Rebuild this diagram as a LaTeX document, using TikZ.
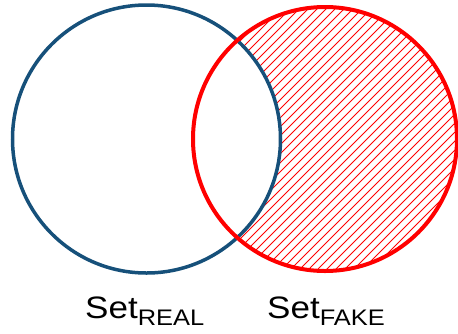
\documentclass[tikz,border=0pt]{standalone}
\usepackage{fontspec}
\setmainfont{Liberation Sans}
\definecolor{realblue}{RGB}{22,80,122}
\definecolor{fakered}{RGB}{255,0,0}
\tikzset{
  realcircle/.style={draw=realblue, line width=3.5pt},
  fakecircle/.style={draw=fakered, line width=4pt},
  hatchline/.style={draw=fakered, line width=0.9pt},
  setlabel/.style={anchor=base west, inner sep=0pt, font=\fontsize{31}{31}\selectfont}
}
\newcommand{\setlab}[1]{\scalebox{1.13}[1]{Set\raisebox{-7pt}{\fontsize{22.5}{22.5}\selectfont #1}}}
\begin{document}
\begin{tikzpicture}[x=1pt, y=-1pt]
\useasboundingbox (0,0) rectangle (458,333);
% hatched region: red circle minus blue circle
\begin{scope}
  \clip (325,139) circle (132);
  \begin{scope}[even odd rule]
    \clip (-10,-10) rectangle (470,345) (146.5,139) circle (134);
    \foreach \i in {-340,-331,...,470} {
      \draw[hatchline] (\i,333) -- (\i+333,0);
    }
  \end{scope}
\end{scope}
\node[realcircle, circle, minimum size=268pt, inner sep=0pt] (real) at (146.5,139) {};
\node[fakecircle, circle, minimum size=264pt, inner sep=0pt] (fake) at (325,139) {};
\node[setlabel] (lreal) at (85,318) {\setlab{REAL}};
\node[setlabel] (lfake) at (267,318) {\setlab{FAKE}};
\end{tikzpicture}
\end{document}
